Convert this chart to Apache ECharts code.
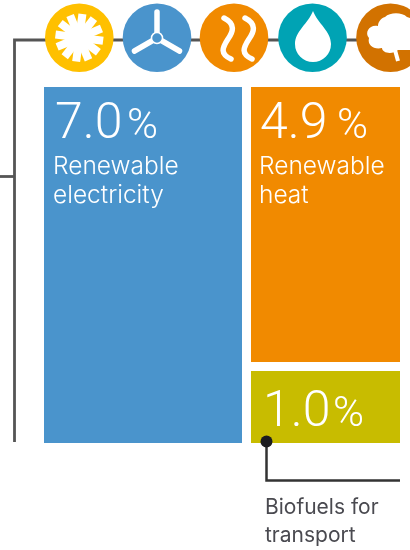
<!DOCTYPE html>
<html><head><meta charset="utf-8">
<style>html,body{margin:0;padding:0;background:#fff}#c{width:410px;height:550px}</style>
<script src="https://cdn.jsdelivr.net/npm/echarts@6/dist/echarts.min.js"></script>
</head><body><div id="c"></div>
<script>
const categories = ['Renewable electricity', 'Renewable heat', 'Biofuels for transport'];
const shares = [7.0, 4.9, 1.0];
const tileColors = ['#4A94CC', '#F18A00', '#C8BC00'];

const tiles = [
  {left: 44, top: 87, width: 198, height: 356},
  {left: 251, top: 87, width: 149, height: 275},
  {left: 251, top: 371, width: 149, height: 72}
];
const LINE = '#555555', FONT = 'Roboto';
const chart = echarts.init(document.getElementById('c'), null, {renderer: 'canvas'});

const g = [];
let pathCount = 0;
const pathEl = (d, style, extra) => {
  const name = 'iconPath' + (pathCount++);
  const Clz = echarts.graphic.extendPath(d, {});
  echarts.graphic.registerShape(name, Clz);
  g.push(Object.assign({type: name, z: 3, style}, extra || {}));
};
const line = (pts, w, color) => g.push({type: 'polyline', z: 1, shape: {points: pts},
  style: {stroke: color || LINE, lineWidth: w || 2.8, fill: null}});
line([[410, 40], [14.5, 40], [14.5, 442]]);
line([[0, 176.5], [14.5, 176.5]]);
line([[266.5, 442], [266.5, 480.5], [400, 480.5]], 2.5, '#333');
g.push({type: 'circle', z: 5, shape: {cx: 266.5, cy: 441.5, r: 6}, style: {fill: '#1c1c20'}});

const disc = (cx, color) => g.push({type: 'circle', z: 2, shape: {cx, cy: 37.7, r: 34.3}, style: {fill: color}});
// sun
disc(79.3, '#FFC000');
g.push({type: 'circle', z: 3, shape: {cx: 79.3, cy: 37.7, r: 14}, style: {fill: '#fff'}});
for (let i = 0; i < 12; i++) g.push({type: 'rect', z: 3, x: 79.3, y: 37.7, rotation: -i * Math.PI / 6 - 0.13,
  shape: {x: -4, y: -24, width: 8, height: 14}, style: {fill: '#fff'}});
// wind
disc(157, '#4A94CC');
for (let i = 0; i < 3; i++) g.push({type: 'line', z: 3, x: 157, y: 38, rotation: -i * 2 * Math.PI / 3,
  shape: {x1: 0, y1: 0, x2: 0, y2: -26}, style: {stroke: '#fff', lineWidth: 5.5, lineCap: 'round'}});
g.push({type: 'circle', z: 4, shape: {cx: 157, cy: 38, r: 5.5}, style: {fill: '#4A94CC', stroke: '#fff', lineWidth: 1.5}});
// heat
disc(234, '#F18A00');
[0, 21].forEach(dx => pathEl('M224 18 C236 24 233 32 228 39 C222 48 220 54 231 59',
  {stroke: '#fff', lineWidth: 5.5, fill: null, lineCap: 'round'}, {x: dx}));
// water
disc(312.5, '#00A3B4');
pathEl('M313 11 C318 24 331 31 331 44 A18 18 0 0 1 295 44 C295 31 308 24 313 11 Z', {fill: '#fff'});
// leaf
disc(390.5, '#D27200');
pathEl('M385 17 C390 12 402 12 407 17 L410 18 L410 50 L398 50 C392 55 382 53 382 48 C374 50 367 45 369 38 C364 32 370 24 378 26 C378 22 381 18 385 17 Z', {fill: '#fff'});
g.push({type: 'line', z: 3, shape: {x1: 395, y1: 50, x2: 398, y2: 61}, style: {stroke: '#fff', lineWidth: 4}});

const text = (t, x, y, size, weight, fill, family) => g.push({type: 'text', z: 6, x, y: y + size * 0.24,
  style: {text: t, fill: fill || '#fff', font: `${weight} ${size}px ${family || FONT}`, textVerticalAlign: 'bottom'}});
const pct = [[55, 138, 127], [260, 138, 337], [263, 426, 333]];
shares.forEach((v, i) => {
  text(v.toFixed(1), pct[i][0], pct[i][1], 50, 300);
  text('%', pct[i][2], pct[i][1], 42, 300);
});
const words = s => { const p = s.split(' '); return [p[0], p.slice(1).join(' ')]; };
text(words(categories[0])[0], 53, 173, 24.5, 300, '#fff', 'Inter');
text(words(categories[0])[1], 53, 202, 24.5, 300, '#fff', 'Inter');
text(words(categories[1])[0], 259, 173, 24.5, 300, '#fff', 'Inter');
text(words(categories[1])[1], 259, 202, 24.5, 300, '#fff', 'Inter');
text('Biofuels for', 265, 513, 21, 400, '#4a4a50', 'Inter');
text('transport', 265, 541, 21, 400, '#4a4a50', 'Inter');

chart.setOption({
  animation: false,
  backgroundColor: '#fff',
  grid: tiles.map(t => ({...t, containLabel: false})),
  xAxis: tiles.map((t, i) => ({type: 'category', gridIndex: i, data: [categories[i]], show: false})),
  yAxis: tiles.map((t, i) => ({type: 'value', gridIndex: i, min: 0, max: shares[i], show: false})),
  series: shares.map((v, i) => ({
    type: 'bar', name: categories[i], xAxisIndex: i, yAxisIndex: i,
    data: [v], barWidth: '100%', itemStyle: {color: tileColors[i]}, z: 2
  })),
  graphic: {elements: g}
});
</script></body></html>
